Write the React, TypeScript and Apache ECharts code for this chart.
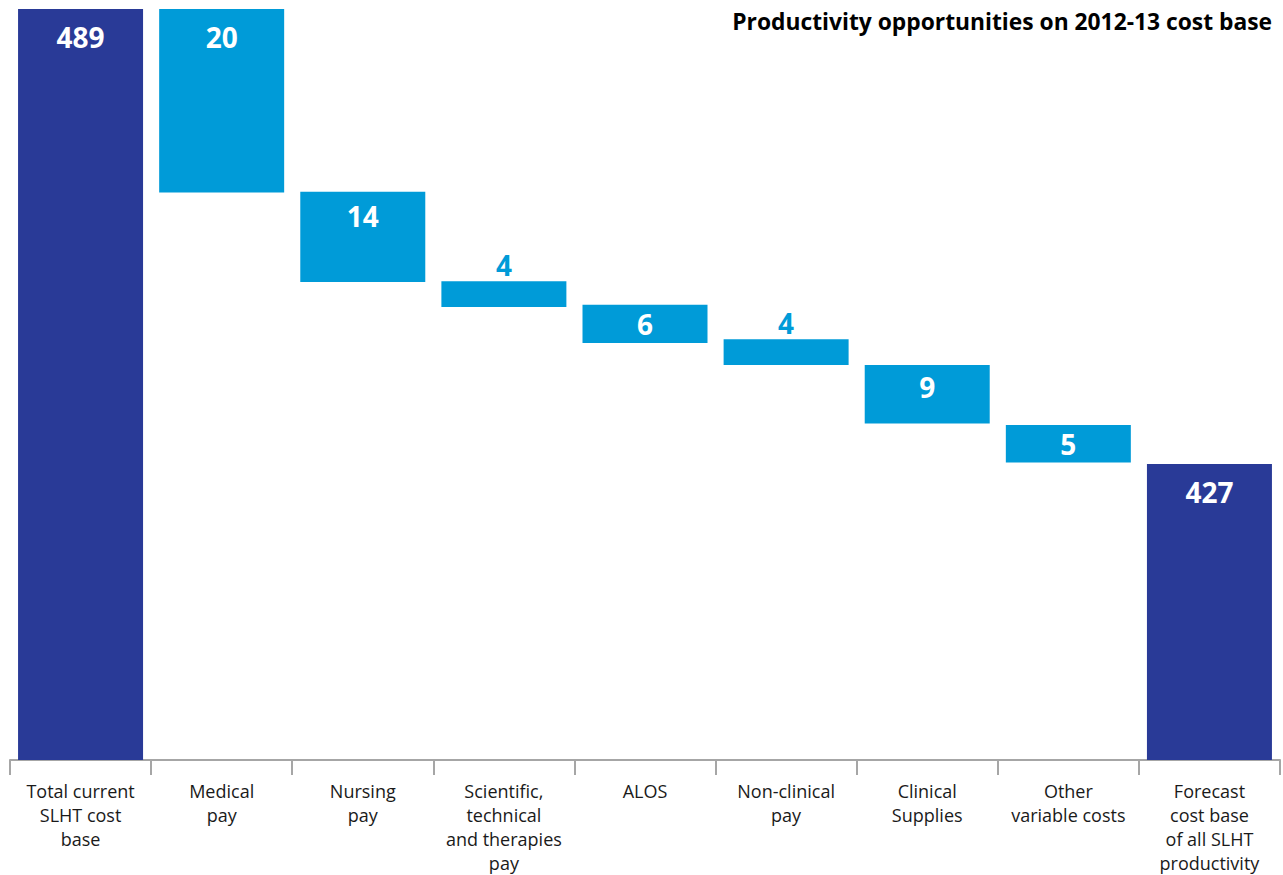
import React, { useEffect, useRef } from "react";
import * as echarts from "echarts";

// Categories (x axis)
const categories = [
  "Total current\nSLHT cost\nbase",
  "Medical\npay",
  "Nursing\npay",
  "Scientific,\ntechnical\nand therapies\npay",
  "ALOS",
  "Non-clinical\npay",
  "Clinical\nSupplies",
  "Other\nvariable costs",
  "Forecast\ncost base\nof all SLHT\nproductivity",
];

// Printed values (£m)
const printedValues = [489, 20, 14, 4, 6, 4, 9, 5, 427];

// Bar extents as drawn in the source (cost-base level, £m)
const barTops = [489, 489, 464.1, 451.9, 448.7, 444.0, 440.5, 432.3, 427];
const barBottoms = [0, 464.0, 451.8, 448.4, 443.5, 440.5, 432.5, 427.2, 0];

// Bar kinds: total or opportunity
const barKinds = ["total", "step", "step", "step", "step", "step", "step", "step", "total"];

// Label placement for each bar
const labelPlacement = ["top19", "top19", "top15", "above", "middle", "above", "top13", "middle", "top19"];

const AXIS_MAX = 489;
const AXIS_MIN = 386.66;

const NAVY = "#293a97";
const BLUE = "#009bd8";
const FONT = "'Open Sans', 'Noto Sans', sans-serif";

export default function App() {
  const ref = useRef<HTMLDivElement>(null);

  useEffect(() => {
    if (!ref.current) return;
    const chart = echarts.init(ref.current, undefined, { renderer: "svg" });

    const labelFor = (i: number) => {
      const p = labelPlacement[i];
      const base: any = {
        show: true,
        color: "#ffffff",
        fontSize: 28,
        fontWeight: "bold",
        fontFamily: FONT,
        formatter: () => String(printedValues[i]),
      };
      if (p === "above") return { ...base, position: "top", distance: 2, color: BLUE };
      if (p === "middle") return { ...base, position: "inside" };
      if (p === "top15") return { ...base, position: "insideTop", distance: 10 };
      if (p === "top13") return { ...base, position: "insideTop", distance: 8 };
      return { ...base, position: "insideTop", distance: 14 };
    };

    const visible = barTops.map((t, i) => ({
      value: t - barBottoms[i],
      itemStyle: { color: barKinds[i] === "total" ? NAVY : BLUE },
      label: labelFor(i),
    }));

    chart.setOption({
      animation: false,
      title: {
        text: "Productivity opportunities on 2012-13 cost base",
        right: 6,
        top: 5,
        textStyle: { fontSize: 22.8, fontWeight: "bold", color: "#000000", fontFamily: FONT },
      },
      grid: { left: 10, right: 3, top: 9, bottom: 115 },
      xAxis: {
        type: "category",
        data: categories,
        boundaryGap: true,
        axisLine: { show: true, lineStyle: { color: "#a6a6a6", width: 2 } },
        axisTick: {
          show: true,
          interval: 0,
          alignWithLabel: false,
          inside: false,
          length: 15,
          lineStyle: { color: "#a6a6a6", width: 2 },
        },
        axisLabel: {
          interval: 0,
          margin: 19,
          fontSize: 18,
          lineHeight: 24,
          color: "#1a1a1a",
          fontFamily: FONT,
        },
      },
      yAxis: {
        type: "value",
        min: AXIS_MIN,
        max: AXIS_MAX,
        show: false,
        splitLine: { show: false },
      },
      series: [
        {
          type: "bar",
          stack: "w",
          data: barBottoms,
          barWidth: 125,
          itemStyle: { color: "transparent" },
          silent: true,
        },
        {
          type: "bar",
          stack: "w",
          data: visible,
          barWidth: 125,
        },
      ],
    });

    return () => chart.dispose();
  }, []);

  return (
    <div
      ref={ref}
      style={{ position: "fixed", left: 0, top: 0, width: 1283, height: 875, background: "#fff" }}
    />
  );
}
